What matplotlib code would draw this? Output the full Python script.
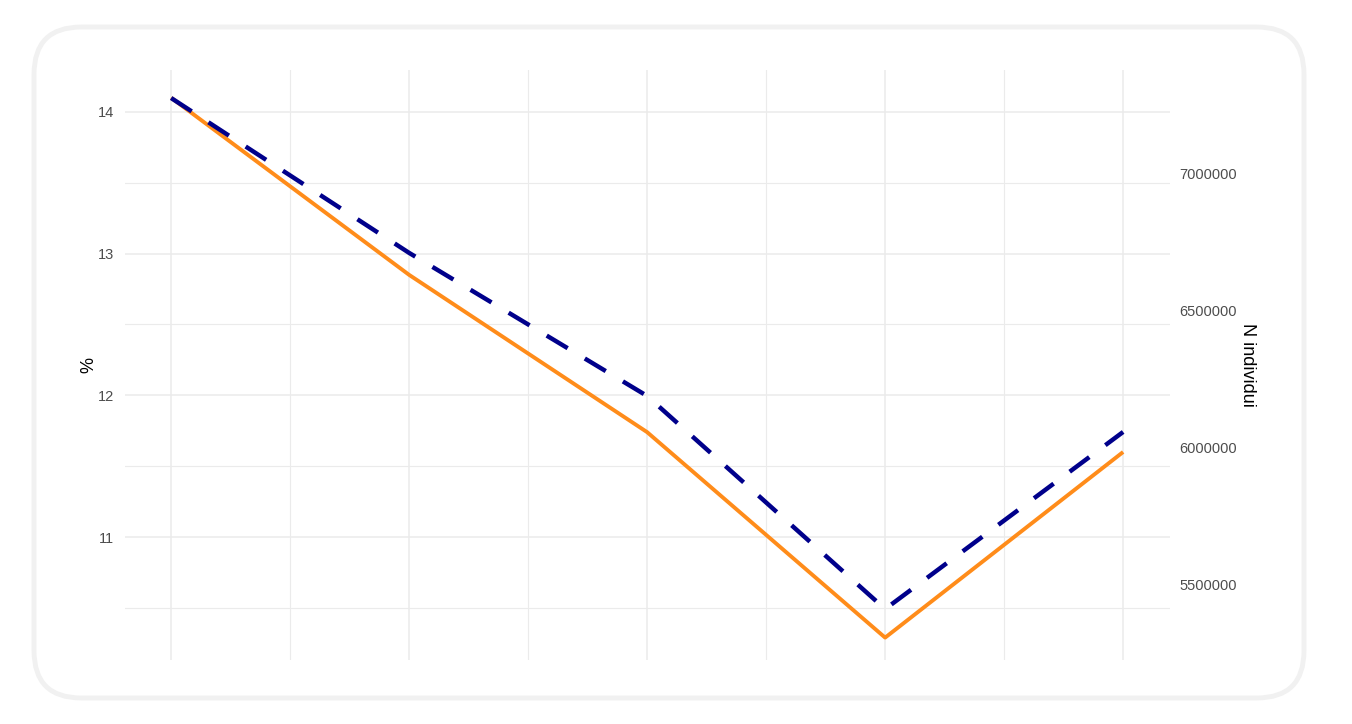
from matplotlib import pyplot as plt
from matplotlib.patches import FancyBboxPatch
from matplotlib.ticker import FixedLocator, NullFormatter

plt.rcParams['font.family'] = ['Liberation Sans', 'DejaVu Sans']

# dati
periodi = [1, 2, 3, 4, 5]
percentuale = [14.10, 12.85, 11.74, 10.29, 11.60]
n_individui = [7273000, 6709000, 6188000, 5412000, 6057000]

fig = plt.figure(figsize=(13.52, 7.24), dpi=100)

# cornice arrotondata
card = FancyBboxPatch((34 / 1352, 1 - 698 / 724), 1270 / 1352, 671 / 724,
                      boxstyle='round, pad=0, rounding_size=0.035',
                      transform=fig.transFigure, fc='white', ec='#f1f1f1', lw=3.5,
                      mutation_aspect=1352 / 724, zorder=-1)
fig.patches.append(card)

ax1 = fig.add_axes([125 / 1352, 1 - 660 / 724, 1045 / 1352, 590 / 724])
ax1.patch.set_alpha(0)
ax2 = ax1.twinx()

ax1.plot(periodi, percentuale, color='#ff8c1a', lw=2.8, solid_capstyle='butt', zorder=3)
ax2.plot(periodi, n_individui, color='#00008b', lw=3.2, dashes=(5.5, 4.5), zorder=3)

ax1.set_xlim(0.806, 5.197)
ax1.set_ylim(10.132, 14.296)
ax2.set_ylim(5226500, 7375100)

ax1.xaxis.set_major_locator(FixedLocator(periodi))
ax1.xaxis.set_minor_locator(FixedLocator([1.5, 2.5, 3.5, 4.5]))
ax1.xaxis.set_major_formatter(NullFormatter())
ax1.yaxis.set_major_locator(FixedLocator([11, 12, 13, 14]))
ax1.yaxis.set_minor_locator(FixedLocator([10.5, 11.5, 12.5, 13.5]))
ax2.yaxis.set_major_locator(FixedLocator([5500000, 6000000, 6500000, 7000000]))
ax2.yaxis.set_major_formatter(lambda v, p: '%d' % v)

ax1.set_axisbelow(True)
ax1.grid(which='major', color='#ebebeb', lw=1.1)
ax1.grid(which='minor', color='#ebebeb', lw=0.8)

for ax in (ax1, ax2):
    for s in ax.spines.values():
        s.set_visible(False)
    ax.tick_params(which='both', length=0, labelsize=10.5, labelcolor='#4d4d4d')
ax1.tick_params(axis='y', pad=8)
ax2.tick_params(axis='y', pad=7)

ax1.set_ylabel('%', fontsize=13, labelpad=0)
ax2.set_ylabel('N individui', fontsize=13, rotation=-90, labelpad=1, va='bottom')

fig.savefig('out.png', dpi=100)
